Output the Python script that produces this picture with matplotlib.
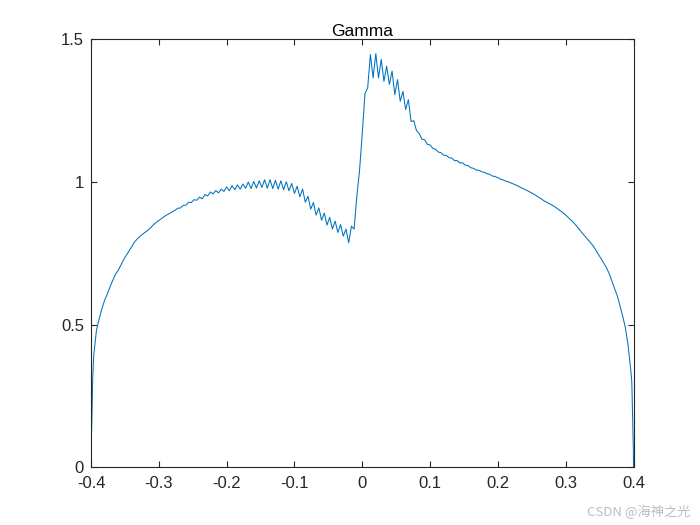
import numpy as np
import matplotlib
matplotlib.use("Agg")
import matplotlib.pyplot as plt

plt.rcParams['font.family'] = ['Liberation Sans', 'DejaVu Sans']
plt.rcParams['axes.unicode_minus'] = False

title = "Gamma"
watermark = "CSDN @海神之光"

# main grid of x values, step 0.004 from -0.4 to 0.4
x_main = np.round(np.arange(-0.4, 0.4001, 0.004), 3)
y_main = [
    0.000, 0.391, 0.479, 0.520, 0.555, 0.585, 0.607, 0.632, 0.655, 0.676,
    0.690, 0.708, 0.727, 0.743, 0.758, 0.773, 0.789, 0.800, 0.809, 0.817,
    0.824, 0.831, 0.840, 0.850, 0.858, 0.865, 0.872, 0.879, 0.885, 0.890,
    0.896, 0.901, 0.908, 0.909, 0.918, 0.919, 0.929, 0.928, 0.938, 0.936,
    0.947, 0.941, 0.956, 0.951, 0.965, 0.958, 0.970, 0.962, 0.975, 0.967,
    0.983, 0.969, 0.987, 0.973, 0.990, 0.975, 0.993, 0.978, 1.000, 0.977,
    1.002, 0.979, 1.004, 0.981, 1.008, 0.978, 1.008, 0.977, 1.006, 0.975,
    1.004, 0.973, 1.001, 0.969, 0.995, 0.960, 0.985, 0.948, 0.975, 0.929,
    0.950, 0.905, 0.928, 0.884, 0.909, 0.866, 0.891, 0.849, 0.876, 0.835,
    0.863, 0.823, 0.851, 0.810, 0.835, 0.787, 0.845, 0.835, 0.950, 1.040,
    1.170, 1.310, 1.330, 1.447, 1.365, 1.450, 1.365, 1.430, 1.353, 1.406,
    1.342, 1.389, 1.306, 1.359, 1.283, 1.318, 1.254, 1.289, 1.212, 1.215,
    1.180, 1.170, 1.150, 1.148, 1.132, 1.130, 1.118, 1.115, 1.105, 1.103,
    1.094, 1.093, 1.085, 1.084, 1.075, 1.075, 1.067, 1.067, 1.059, 1.058,
    1.050, 1.048, 1.042, 1.041, 1.036, 1.034, 1.029, 1.027, 1.021, 1.019,
    1.015, 1.010, 1.007, 1.003, 1.000, 0.996, 0.992, 0.988, 0.983, 0.978,
    0.974, 0.969, 0.964, 0.959, 0.953, 0.947, 0.941, 0.934, 0.929, 0.924,
    0.919, 0.913, 0.906, 0.899, 0.892, 0.884, 0.875, 0.866, 0.857, 0.846,
    0.834, 0.822, 0.811, 0.800, 0.789, 0.778, 0.763, 0.747, 0.732, 0.716,
    0.700, 0.680, 0.653, 0.627, 0.602, 0.566, 0.530, 0.490, 0.428, 0.340,
    0.000,
]

# extra samples near the two edges
x_edge = [-0.3998, -0.3985, -0.3975, 0.3975, 0.3986, 0.3998]
y_edge = [0.065, 0.190, 0.310, 0.300, 0.191, 0.062]

x_all = np.concatenate([x_main, x_edge])
y_all = np.concatenate([np.array(y_main), np.array(y_edge)])
order = np.argsort(x_all)
x_all = x_all[order]
y_all = y_all[order]

x_ticks = [-0.4, -0.3, -0.2, -0.1, 0, 0.1, 0.2, 0.3, 0.4]
x_ticklabels = ['-0.4', '-0.3', '-0.2', '-0.1', '0', '0.1', '0.2', '0.3', '0.4']
y_ticks = [0, 0.5, 1, 1.5]
y_ticklabels = ['0', '0.5', '1', '1.5']

fig = plt.figure(figsize=(7, 5.25), dpi=100)
ax = fig.add_axes([0.13, 0.11, 0.775, 0.815])
ax.plot(x_all, y_all, color='#0072BD', linewidth=0.75)
ax.set_xlim(-0.4, 0.4)
ax.set_ylim(0, 1.5)
ax.set_xticks(x_ticks)
ax.set_xticklabels(x_ticklabels)
ax.set_yticks(y_ticks)
ax.set_yticklabels(y_ticklabels)

axcol = '#262626'
for s in ax.spines.values():
    s.set_color(axcol)
    s.set_linewidth(0.8)
ax.tick_params(direction='in', length=4, width=0.8, color=axcol,
               labelcolor=axcol, labelsize=12, top=True, right=True)
ax.tick_params(axis='x', pad=6)
ax.tick_params(axis='y', pad=5)
ax.set_title(title, fontsize=12.5, color='black', pad=2.5)

fig.text(0.986, 0.012, watermark, ha='right', va='bottom', fontsize=9.5,
         color='#bdbdbd', family=['Noto Sans CJK SC', 'DejaVu Sans'])

fig.savefig('out.png', dpi=100, facecolor='white')
